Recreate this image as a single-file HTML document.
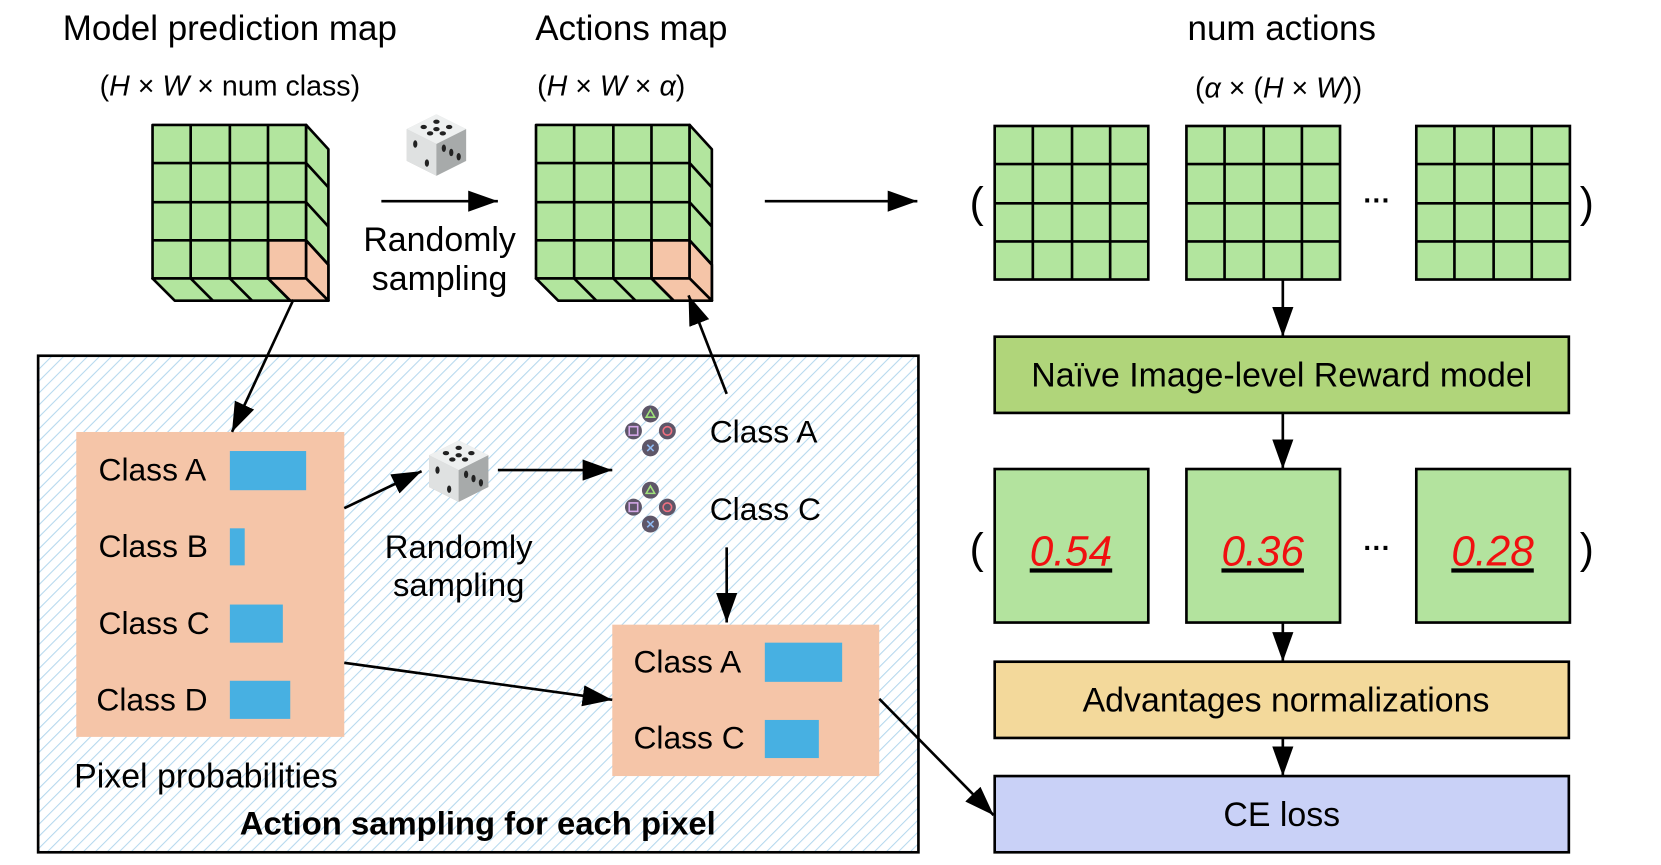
<!DOCTYPE html><html><head><meta charset="utf-8"><style>html,body{margin:0;padding:0;background:#fff}svg{display:block}text{font-family:"Liberation Sans",sans-serif;fill:#000}</style></head><body>
<svg width="1661" height="865" viewBox="0 0 1568 817" preserveAspectRatio="none" xmlns="http://www.w3.org/2000/svg">
<defs>
<pattern id="h" width="8" height="8" patternUnits="userSpaceOnUse" patternTransform="rotate(45)"><rect width="8" height="8" fill="#fff"/><line x1="0" y1="0" x2="0" y2="8" stroke="#b5d8ee" stroke-width="2"/></pattern>
<marker id="b" viewBox="0 0 10 10" refX="10" refY="5" markerWidth="28" markerHeight="20" markerUnits="userSpaceOnUse" orient="auto" preserveAspectRatio="none"><path d="M0,0L10,5L0,10z"/></marker>
<g id="dice">
<path d="M-28,-16 L0,-30 L28,-16 L28,14 L0,28 L-28,14Z" fill="#bfc1c1"/>
<path d="M-28,-16 L0,-30 L28,-16 L0,-2Z" fill="#eef0f0"/>
<path d="M-28,-16 L0,-2 L0,28 L-28,14Z" fill="#dfe1e1"/>
<path d="M0,-2 L28,-16 L28,14 L0,28Z" fill="#a7aaaa"/>
<g fill="#222"><ellipse cx="-12" cy="-18" rx="3" ry="2"/><ellipse cx="0" cy="-23" rx="3" ry="2"/><ellipse cx="12" cy="-18" rx="3" ry="2"/><ellipse cx="-6" cy="-12" rx="3" ry="2"/><ellipse cx="6" cy="-12" rx="3" ry="2"/><ellipse cx="0" cy="-16" rx="3" ry="2"/>
<ellipse cx="-20" cy="-2" rx="2" ry="3.5"/><ellipse cx="-9" cy="16" rx="2" ry="3.5"/>
<ellipse cx="7" cy="2" rx="2" ry="3.5"/><ellipse cx="14" cy="6" rx="2" ry="3.5"/><ellipse cx="21" cy="10" rx="2" ry="3.5"/></g>
</g>
<g id="pad">
<circle cx="0" cy="-16" r="8" fill="#5e5668"/><path d="M-4,-13 L0,-20 L4,-13Z" fill="none" stroke="#9fe07a" stroke-width="1.5"/>
<circle cx="-16" cy="0" r="8" fill="#5e5668"/><rect x="-20" y="-4" width="8" height="8" fill="none" stroke="#d4a8e8" stroke-width="1.5"/>
<circle cx="16" cy="0" r="8" fill="#5e5668"/><circle cx="16" cy="0" r="4" fill="none" stroke="#f07080" stroke-width="1.5"/>
<circle cx="0" cy="16" r="8" fill="#5e5668"/><path d="M-3,13 L3,19 M3,13 L-3,19" stroke="#8fb8f0" stroke-width="1.5"/>
</g>
<g id="cube" stroke="#000" stroke-width="2.5" stroke-linejoin="round">
<rect x="0" y="0" width="145" height="145" fill="#b2e59e"/>
<path d="M145,0 L166,23 L166,166 L145,145Z" fill="#b2e59e"/>
<path d="M0,145 L145,145 L166,166 L21,166Z" fill="#b2e59e"/>
<rect x="109" y="109" width="36" height="36" fill="#f5c5a8"/>
<path d="M145,109 L166,132 L166,166 L145,145Z" fill="#f5c5a8"/>
<path d="M109,145 L145,145 L166,166 L130,166Z" fill="#f5c5a8"/>
<path d="M36,0V145M73,0V145M109,0V145M0,36H145M0,73H145M0,109H145M145,36L166,59M145,73L166,96M145,109L166,132M36,145L57,166M73,145L94,166M109,145L130,166" fill="none"/>
</g>
<g id="grid" stroke="#000" stroke-width="2.5"><rect x="0" y="0" width="145" height="145" fill="#b2e59e"/><path d="M36,0V145M73,0V145M109,0V145M0,36H145M0,73H145M0,109H145" fill="none"/></g>
</defs>

<text x="217" y="38" font-size="33" text-anchor="middle">Model prediction map</text>
<text x="217" y="90" font-size="27" text-anchor="middle" font-family="Liberation Serif">(<tspan font-style="italic">H</tspan> × <tspan font-style="italic">W</tspan> × num class)</text>
<text x="596" y="38" font-size="33" text-anchor="middle">Actions map</text>
<text x="577" y="90" font-size="27" text-anchor="middle" font-family="Liberation Serif">(<tspan font-style="italic">H</tspan> × <tspan font-style="italic">W</tspan> × <tspan font-style="italic">α</tspan>)</text>
<text x="1210" y="38" font-size="33" text-anchor="middle">num actions</text>
<text x="1207" y="92" font-size="27" text-anchor="middle" font-family="Liberation Serif">(<tspan font-style="italic">α</tspan> × (<tspan font-style="italic">H</tspan> × <tspan font-style="italic">W</tspan>))</text>

<use href="#cube" x="144" y="118"/>
<use href="#cube" x="506" y="118"/>
<use href="#dice" x="412" y="138"/>
<line x1="360" y1="190" x2="470" y2="190" stroke="#000" stroke-width="2.5" marker-end="url(#b)"/>
<text x="415" y="237" font-size="32" text-anchor="middle">Randomly</text>
<text x="415" y="274" font-size="32" text-anchor="middle">sampling</text>
<line x1="722" y1="190" x2="866" y2="190" stroke="#000" stroke-width="2.5" marker-end="url(#b)"/>

<use href="#grid" x="939" y="119"/><use href="#grid" x="1120" y="119"/><use href="#grid" x="1337" y="119"/>
<text x="922" y="205" font-size="40" text-anchor="middle">(</text><text x="1498" y="205" font-size="40" text-anchor="middle">)</text>
<text x="1300" y="198" font-size="26" text-anchor="middle" font-weight="bold">···</text>
<line x1="1211" y1="264" x2="1211" y2="318" stroke="#000" stroke-width="2.5" marker-end="url(#b)"/>
<rect x="939" y="318" width="542" height="72" fill="#b0d57a" stroke="#000" stroke-width="2.5"/>
<text x="1210" y="365" font-size="32" text-anchor="middle">Naïve Image-level Reward model</text>
<line x1="1211" y1="390" x2="1211" y2="443" stroke="#000" stroke-width="2.5" marker-end="url(#b)"/>
<g fill="#b3e39e" stroke="#000" stroke-width="2.5"><rect x="939" y="443" width="145" height="145"/><rect x="1120" y="443" width="145" height="145"/><rect x="1337" y="443" width="145" height="145"/></g>
<g font-size="40" font-style="italic" text-anchor="middle" text-decoration="underline"><text x="1011" y="534" style="fill:#f01010">0.54</text><text x="1192" y="534" style="fill:#f01010">0.36</text><text x="1409" y="534" style="fill:#f01010">0.28</text></g>
<text x="922" y="532" font-size="40" text-anchor="middle">(</text><text x="1498" y="532" font-size="40" text-anchor="middle">)</text>
<text x="1300" y="526" font-size="26" text-anchor="middle" font-weight="bold">···</text>
<line x1="1211" y1="588" x2="1211" y2="625" stroke="#000" stroke-width="2.5" marker-end="url(#b)"/>
<rect x="939" y="625" width="542" height="72" fill="#f3d99b" stroke="#000" stroke-width="2.5"/>
<text x="1214" y="672" font-size="32" text-anchor="middle">Advantages normalizations</text>
<line x1="1211" y1="697" x2="1211" y2="733" stroke="#000" stroke-width="2.5" marker-end="url(#b)"/>
<rect x="939" y="733" width="542" height="72" fill="#c9d1f7" stroke="#000" stroke-width="2.5"/>
<text x="1210" y="780" font-size="32" text-anchor="middle">CE loss</text>

<rect x="36" y="336" width="831" height="469" fill="url(#h)" stroke="#000" stroke-width="2.5"/>
<rect x="72" y="408" width="253" height="288" fill="#f5c5a8"/>
<g font-size="30"><text x="93" y="454">Class A</text><text x="93" y="526">Class B</text><text x="93" y="599">Class C</text><text x="91" y="671">Class D</text></g>
<g fill="#47b0e2"><rect x="217" y="426" width="72" height="37"/><rect x="217" y="499" width="14" height="35"/><rect x="217" y="571" width="50" height="36"/><rect x="217" y="643" width="57" height="36"/></g>
<text x="70" y="744" font-size="32">Pixel probabilities</text>
<text x="451" y="788" font-size="31" font-weight="bold" text-anchor="middle">Action sampling for each pixel</text>
<use href="#dice" x="433" y="446"/>
<line x1="325" y1="480" x2="398" y2="445" stroke="#000" stroke-width="2.5" marker-end="url(#b)"/>
<line x1="470" y1="444" x2="578" y2="444" stroke="#000" stroke-width="2.5" marker-end="url(#b)"/>
<text x="433" y="527" font-size="31" text-anchor="middle">Randomly</text>
<text x="433" y="563" font-size="31" text-anchor="middle">sampling</text>
<use href="#pad" x="614" y="407"/><use href="#pad" x="614" y="479"/>
<text x="670" y="418" font-size="30">Class A</text><text x="670" y="491" font-size="30">Class C</text>
<line x1="686" y1="372" x2="650" y2="279" stroke="#000" stroke-width="2.5" marker-end="url(#b)"/>
<line x1="686" y1="517" x2="686" y2="588" stroke="#000" stroke-width="2.5" marker-end="url(#b)"/>
<line x1="277" y1="283" x2="219" y2="408" stroke="#000" stroke-width="2.5" marker-end="url(#b)"/>
<rect x="578" y="590" width="252" height="143" fill="#f5c5a8"/>
<text x="598" y="635" font-size="30">Class A</text><text x="598" y="707" font-size="30">Class C</text>
<rect x="722" y="607" width="73" height="37" fill="#47b0e2"/><rect x="722" y="680" width="51" height="36" fill="#47b0e2"/>
<line x1="325" y1="626" x2="578" y2="661" stroke="#000" stroke-width="2.5" marker-end="url(#b)"/>
<line x1="830" y1="660" x2="938" y2="770" stroke="#000" stroke-width="2.5" marker-end="url(#b)"/>
</svg>
</body></html>
